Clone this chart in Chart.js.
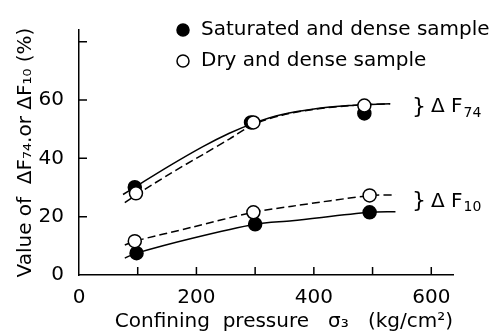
<!DOCTYPE html>
<html>
<head>
<meta charset="utf-8">
<script src="https://cdn.jsdelivr.net/npm/chart.js@4"></script>
<style>
    html, body { margin: 0; padding: 0; background: #fff; }
    #wrap { width: 499px; height: 334px; }
</style>
</head>
<body>
<div id="wrap"><canvas id="pressureChart"></canvas></div>
<script>
// points (confining pressure, kg/cm2 -> value %)
const satF74X = [95, 293, 486];
const satF74Y = [30.1, 52.3, 55.4];
const dryF74X = [97, 297, 486];
const dryF74Y = [28.0, 52.3, 58.1];
const satF10X = [98, 300, 495];
const satF10Y = [7.5, 17.4, 21.5];
const dryF10X = [95, 297, 495];
const dryF10Y = [11.6, 21.5, 27.3];

// fitted curves, sampled by eye along the drawn lines
const satF74CurveX = [75, 95, 154, 211, 256, 297, 346, 403, 459, 486, 530];
const satF74CurveY = [27.6, 30.1, 37.4, 44.0, 48.6, 52.0, 55.0, 57.0, 58.1, 58.4, 58.7];
const dryF74CurveX = [78, 97, 154, 211, 256, 297, 346, 403, 459, 486, 530];
const dryF74CurveY = [24.8, 27.4, 34.6, 41.3, 46.6, 51.6, 54.8, 56.9, 58.0, 58.4, 58.7];
const satF10CurveX = [78, 98, 193, 300, 363, 495, 539];
const satF10CurveY = [5.8, 7.5, 12.6, 17.4, 18.6, 21.5, 21.7];
const dryF10CurveX = [78, 95, 193, 297, 363, 495, 539];
const dryF10CurveY = [10.3, 11.6, 16.4, 21.5, 23.6, 27.2, 27.5];

const xTicks = [0, 100, 200, 300, 400, 500, 600];
const xLabelled = [0, 200, 400, 600];
const yTicks = [0, 20, 40, 60, 80];
const yLabelled = [0, 20, 40, 60];

const groupNotes = [
    { sub: '74', level: 57.5 },
    { sub: '10', level: 25.2 },
];

const FONT = '"DejaVu Sans", sans-serif';

function pairs(xs, ys) {
    return xs.map((x, i) => ({ x, y: ys[i] }));
}

function curve(label, xs, ys, dashed) {
    return {
        label,
        data: pairs(xs, ys),
        showLine: true,
        borderColor: '#000',
        borderWidth: 1.5,
        borderDash: dashed ? [8, 4] : [],
        pointRadius: 0,
        tension: 0.3,
        order: 2,
    };
}

const inwardTicks = {
    id: 'inwardTicks',
    beforeDatasetsDraw(chart) {
        const { ctx, chartArea, scales } = chart;
        ctx.save();
        ctx.strokeStyle = '#000';
        ctx.lineWidth = 1.5;
        ctx.beginPath();
        scales.x.ticks.forEach((t) => {
            if (t.value === 0) return;
            const px = scales.x.getPixelForValue(t.value);
            ctx.moveTo(px, chartArea.bottom);
            ctx.lineTo(px, chartArea.bottom - 8);
        });
        scales.y.ticks.forEach((t) => {
            if (t.value === 0) return;
            const py = scales.y.getPixelForValue(t.value);
            ctx.moveTo(chartArea.left, py);
            ctx.lineTo(chartArea.left + 8, py);
        });
        ctx.stroke();
        ctx.restore();
    },
};

const keyAndNotes = {
    id: 'keyAndNotes',
    afterDraw(chart) {
        const { ctx, chartArea, scales } = chart;
        ctx.save();
        ctx.font = '20px ' + FONT;
        ctx.textBaseline = 'middle';
        ctx.fillStyle = '#000';
        ctx.strokeStyle = '#000';
        ctx.lineWidth = 1.5;

        // legend rows: filled dot then open dot
        [0, 1].forEach((i) => {
            const ds = chart.data.datasets[i];
            const cy = 30 + i * 31;
            ctx.beginPath();
            ctx.arc(183, cy, 6, 0, Math.PI * 2);
            ctx.fillStyle = ds.backgroundColor;
            ctx.fill();
            ctx.stroke();
            ctx.fillStyle = '#000';
            ctx.fillText(ds.label, 201, cy);
        });

        // "} ΔF74" and "} ΔF10" labels at the right
        const x0 = chartArea.right - 41;
        groupNotes.forEach((note) => {
            const cy = scales.y.getPixelForValue(note.level);
            ctx.font = '22px ' + FONT;
            ctx.fillText('}', x0, cy);
            ctx.font = '20px ' + FONT;
            ctx.fillText('Δ F', x0 + 19, cy);
            const w = ctx.measureText('Δ F').width;
            ctx.font = '14px ' + FONT;
            ctx.fillText(note.sub, x0 + 19 + w + 1, cy + 6);
        });
        ctx.restore();
    },
};

(function initializePressureChart() {
    const ctx = document.getElementById('pressureChart').getContext('2d');
    new Chart(ctx, {
        type: 'scatter',
        data: {
            datasets: [
                {
                    label: 'Saturated and dense sample',
                    data: pairs(satF74X, satF74Y).concat(pairs(satF10X, satF10Y)),
                    backgroundColor: '#000',
                    borderColor: '#000',
                    borderWidth: 1.5,
                    pointRadius: 6.5,
                    order: 1,
                },
                {
                    label: 'Dry and dense sample',
                    data: pairs(dryF74X, dryF74Y).concat(pairs(dryF10X, dryF10Y)),
                    backgroundColor: '#fff',
                    borderColor: '#000',
                    borderWidth: 1.5,
                    pointRadius: 6.5,
                    order: 0,
                },
                curve('ΔF74 saturated', satF74CurveX, satF74CurveY, false),
                curve('ΔF74 dry', dryF74CurveX, dryF74CurveY, true),
                curve('ΔF10 saturated', satF10CurveX, satF10CurveY, false),
                curve('ΔF10 dry', dryF10CurveX, dryF10CurveY, true),
            ],
        },
        options: {
            responsive: true,
            maintainAspectRatio: false,
            animation: false,
            layout: { padding: { left: 0, right: 46, top: 30, bottom: 0 } },
            plugins: {
                legend: { display: false },
                tooltip: { enabled: false },
            },
            scales: {
                x: {
                    type: 'linear',
                    min: 0,
                    max: 637,
                    afterBuildTicks: (s) => { s.ticks = xTicks.map((v) => ({ value: v })); },
                    afterFit: (s) => {
                        s.height = 59;
                        s.paddingLeft = 0;
                        s.paddingRight = 0;
                    },
                    grid: { display: false },
                    border: { display: true, color: '#000', width: 1.5 },
                    ticks: {
                        autoSkip: false,
                        maxRotation: 0,
                        padding: 3,
                        color: '#000',
                        font: { family: FONT, size: 20 },
                        callback: (v) => (xLabelled.includes(v) ? String(v) : ''),
                    },
                    title: {
                        display: true,
                        text: 'Confining  pressure   σ₃   (kg/cm²)',
                        align: 'end',
                        color: '#000',
                        font: { family: FONT, size: 20 },
                        padding: { top: 0, bottom: 0 },
                    },
                },
                y: {
                    min: 0,
                    max: 84,
                    afterBuildTicks: (s) => { s.ticks = yTicks.map((v) => ({ value: v })); },
                    afterFit: (s) => {
                        s.width = 79;
                        s.paddingTop = 0;
                        s.paddingBottom = 0;
                    },
                    grid: { display: false },
                    border: { display: true, color: '#000', width: 1.5 },
                    ticks: {
                        padding: 7,
                        color: '#000',
                        font: { family: FONT, size: 20 },
                        callback: (v) => (yLabelled.includes(v) ? String(v) : ''),
                    },
                    title: {
                        display: true,
                        text: 'Value of  ΔF₇₄.or ΔF₁₀ (%)',
                        color: '#000',
                        font: { family: FONT, size: 20 },
                        padding: { top: 14, bottom: 0 },
                    },
                },
            },
        },
        plugins: [inwardTicks, keyAndNotes],
    });
})();
</script>
</body>
</html>
